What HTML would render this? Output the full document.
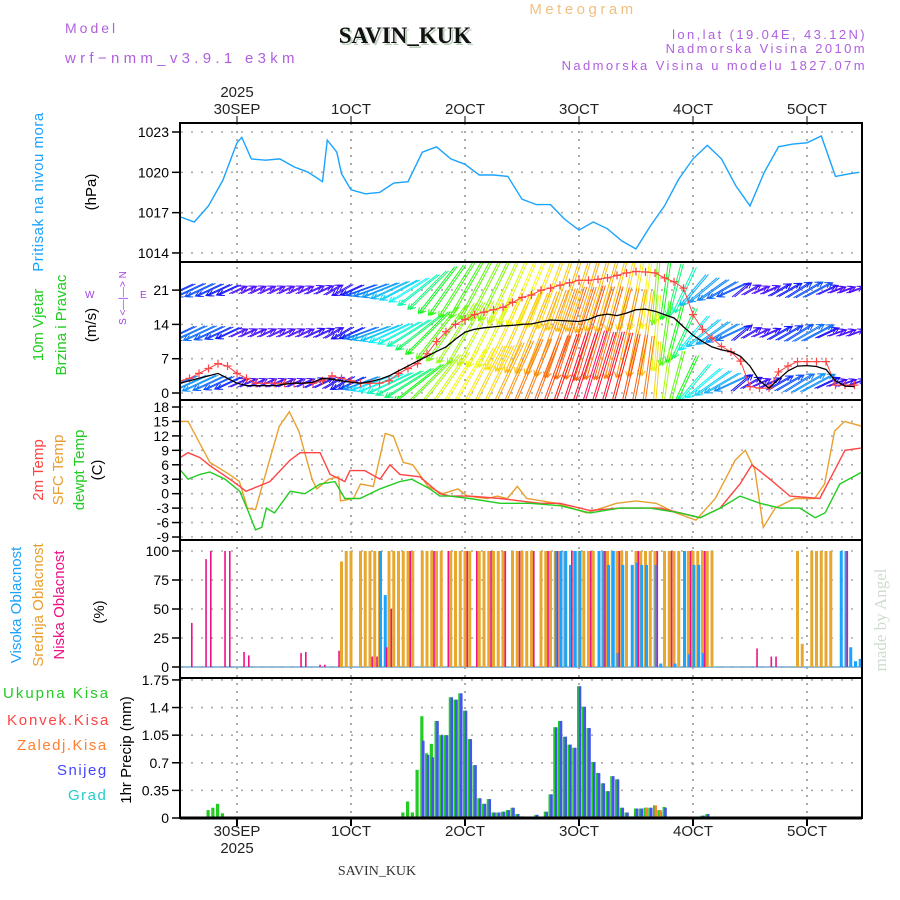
<!DOCTYPE html>
<html><head><meta charset="utf-8"><style>
body{margin:0;background:#fff;}
svg{display:block;font-family:"Liberation Sans",sans-serif;}
.tk{font-size:14px;fill:#000;text-anchor:end;}
.dl{font-size:15px;fill:#222;text-anchor:middle;}
</style></head><body>
<svg id="c" width="900" height="900" viewBox="0 0 900 900">
<defs>
<clipPath id="cp2"><rect x="181" y="263" width="680" height="137"/></clipPath>
<clipPath id="cpAll"><rect x="181" y="123" width="681" height="695"/></clipPath>
</defs>
<text x="65" y="33" font-size="14" fill="#b060e0" letter-spacing="3">Model</text>
<text x="65" y="63" font-size="15" fill="#b060e0" letter-spacing="4.3">wrf−nmm_v3.9.1 e3km</text>
<text x="407" y="45" font-size="23" font-weight="bold" font-family="Liberation Serif,serif" fill="#bcd0bc" text-anchor="middle">SAVIN_KUK</text>
<text x="405" y="43" font-size="23" font-weight="bold" font-family="Liberation Serif,serif" fill="#111" text-anchor="middle">SAVIN_KUK</text>
<text x="583" y="14" font-size="15" fill="#f0c080" text-anchor="middle" letter-spacing="3.5">Meteogram</text>
<text x="867" y="39" font-size="13" fill="#b060e0" text-anchor="end" letter-spacing="2.4">lon,lat (19.04E, 43.12N)</text>
<text x="867" y="53" font-size="13" fill="#b060e0" text-anchor="end" letter-spacing="2.4">Nadmorska Visina 2010m</text>
<text x="867" y="70" font-size="13" fill="#b060e0" text-anchor="end" letter-spacing="2.4">Nadmorska Visina u modelu 1827.07m</text>
<g id="dates"></g>
<g id="grid"></g>
<g id="marks"></g>
<g id="frames"></g>
<g font-size="15">
<text transform="translate(43,192) rotate(-90)" text-anchor="middle" fill="#1aa3ff" letter-spacing="0.5">Pritisak na nivou mora</text>
<text transform="translate(96,192) rotate(-90)" text-anchor="middle" fill="#000">(hPa)</text>
<text transform="translate(43,325) rotate(-90)" text-anchor="middle" fill="#22cc22">10m Vjetar</text>
<text transform="translate(66,325) rotate(-90)" text-anchor="middle" fill="#22cc22">Brzina i Pravac</text>
<text transform="translate(96,325) rotate(-90)" text-anchor="middle" fill="#000">(m/s)</text>
<text x="85" y="298" font-size="10" fill="#a040e0">W</text>
<text transform="translate(126,298) rotate(-90)" text-anchor="middle" font-size="10" fill="#a040e0">S &lt;—|—&gt; N</text>
<text x="140" y="298" font-size="10" fill="#a040e0">E</text>
<text transform="translate(43,470) rotate(-90)" text-anchor="middle" fill="#ff4444">2m Temp</text>
<text transform="translate(63,470) rotate(-90)" text-anchor="middle" fill="#e8a030">SFC Temp</text>
<text transform="translate(84,470) rotate(-90)" text-anchor="middle" fill="#22cc22">dewpt Temp</text>
<text transform="translate(102,470) rotate(-90)" text-anchor="middle" fill="#000">(C)</text>
<text transform="translate(21,605) rotate(-90)" text-anchor="middle" fill="#1aa3ff">Visoka Oblacnost</text>
<text transform="translate(43,605) rotate(-90)" text-anchor="middle" fill="#e8a030">Srednja Oblacnost</text>
<text transform="translate(64,605) rotate(-90)" text-anchor="middle" fill="#ee1188">Niska Oblacnost</text>
<text transform="translate(104,612) rotate(-90)" text-anchor="middle" fill="#000">(%)</text>
<text x="3" y="698" fill="#22cc22" letter-spacing="2">Ukupna Kisa</text>
<text x="7" y="725" fill="#ff4444" letter-spacing="1.8">Konvek.Kisa</text>
<text x="17" y="750" fill="#ff8030" letter-spacing="1.5">Zaledj.Kisa</text>
<text x="57" y="775" fill="#4444ff" letter-spacing="1.5">Snijeg</text>
<text x="68" y="800" fill="#22cccc" letter-spacing="1.5">Grad</text>
<text transform="translate(131,750) rotate(-90)" text-anchor="middle" fill="#000">1hr Precip (mm)</text>
</g>
<text transform="translate(886,620) rotate(-90)" text-anchor="middle" font-size="17" font-family="Liberation Serif,serif" fill="#cfdccf">made by Angel</text>
<text x="377" y="875" font-size="14" font-family="Liberation Serif,serif" fill="#333" text-anchor="middle">SAVIN_KUK</text>
</svg>
<script>
// ---------- data ----------
const dayLabels=["30SEP","1OCT","2OCT","3OCT","4OCT","5OCT"];
const pressTicks=[1023,1020,1017,1014];
const windTicks=[0,7,14,21];
const tempTicks=[18,15,12,9,6,3,0,-3,-6,-9];
const cloudTicks=[0,25,50,75,100];
const precipTicks=[0,0.35,0.7,1.05,1.4,1.75];

const pressHours=[0,3,6,9,12,13,15,18,21,24,27,30,31,33,34,36,39,42,45,48,51,54,57,60,63,66,69,72,75,78,81,84,87,90,93,96,99,102,105,108,111,114,117,120,123,126,129,132,135,138,141,143];
const pressVals=[1016.7,1016.3,1017.5,1019.4,1022.2,1022.6,1021.0,1020.9,1021.0,1020.4,1020.0,1019.3,1022.4,1021.5,1019.9,1018.7,1018.4,1018.5,1019.2,1019.3,1021.5,1021.9,1021.0,1020.6,1019.8,1019.8,1019.7,1018.0,1017.6,1017.6,1016.5,1015.7,1016.3,1015.8,1014.9,1014.3,1016.0,1017.5,1019.5,1021.0,1022.0,1021.0,1019.0,1017.5,1020.0,1021.9,1022.1,1022.2,1022.7,1019.7,1019.9,1020.0];

const windHours=[0,2,4,6,8,10,12,14,16,18,20,22,24,26,28,30,32,34,36,38,40,42,44,46,48,50,52,54,56,58,60,62,64,66,68,70,72,74,76,78,80,82,84,86,88,90,92,94,96,98,100,102,104,106,108,110,112,114,116,118,120,122,124,126,128,130,132,134,136,138,140,142];
const windSpeed=[2,2.5,3,3.5,4,3,2,1.5,1.5,1.5,1.5,1.8,2,2,2.2,3,2.8,2.5,2.2,2,2.3,2.8,3.5,4.5,5.5,6.5,7.5,8.5,9.4,11,12.4,13,13.3,13.5,13.7,13.8,14,14.1,14.5,14.9,14.8,14.7,14.6,15,15.8,16.1,15.8,16.3,17,17.1,16.7,16,15.3,13.5,11.8,10.5,9.4,8.8,8.4,7.5,5.5,2.5,1,2.8,4.5,5.5,5.6,5.4,4.8,2.5,1.4,1.3];
const gustSpeed=[2.5,3,4,5,6,5.5,4,3,2,2,2,2,2,2,2,2.5,3.5,3,2.5,2,2,2,2.5,4,5,6,8,10.5,12.5,14,15,16,16.5,17,17.5,18.5,19.5,20,21,21.4,22,22.5,23,23,23.2,23.5,24,24.5,24.8,24.7,24.5,23.5,22.7,21.4,16,13,11.2,9.5,8.4,6.5,1.3,1,1,4.3,5.5,6.4,6.4,6.4,6.4,1.6,1.6,1.6];
const bandSpeed=[4.5,5,5,4.5,4,3.5,2,2,2,2,2,2,2,2,2.5,2.5,2.5,3,3.5,5,6,6.5,7,7.5,8,9,10,11,11.5,12,12,12.5,13,13,14,14.5,15,15,15.5,16,16.5,17,17,17.5,17,17,16.5,16,15.5,15,13,11,10,9,7,6.5,6,5.5,5,3,2.5,2,2.5,3.5,4,4.5,5,5,3,2,2,2];
const bandDir=[205,205,205,205,205,205,25,25,25,25,25,25,25,25,25,25,30,210,205,200,200,202,205,208,212,218,225,232,235,238,240,242,243,244,245,246,247,248,249,250,251,252,252,253,253,254,255,257,259,262,265,262,255,245,230,220,215,210,205,40,30,25,25,30,30,32,30,28,25,20,20,20];

const t2Hours=[0,1.7,4.2,6.3,10.5,12.6,13.9,18.9,23.2,25.3,29.5,31.6,34.7,35.8,38.9,42.1,44.2,46.3,50.5,54.7,56.8,61,67.4,71.6,75.8,80,86.3,92.6,101,105.3,109.5,113.7,117.9,120.4,124.2,128.4,134.7,137.9,140,143.6];
const t2Vals=[7.5,8.5,7.5,5.8,3,1.5,0.5,2.5,7,8.5,8.5,4,2.5,4.8,4.8,3,6,4,3.5,0,-0.5,-0.5,-1,-1.5,-2,-2,-3.5,-3,-3,-4,-5,-3,2,6,3,-0.5,-1,5,9,9.5];
const sfcHours=[0,1.7,6.3,10.4,12.5,14.2,15.9,17.7,20.9,23,25,27.8,28.8,31.3,33.4,33.8,36.5,38,40.7,43.2,44.9,47,49,52.2,55.3,58.5,60.5,64.7,66.8,68.9,71,73,79.3,85.6,91.9,96,100.2,104.4,108.6,112.7,116.9,119,121,122.8,125.3,129.4,133.6,135.7,137.8,139.9,143.6];
const sfcVals=[15,15,6.5,4,2.5,-3,-3.3,3,14,17,13,3,1,3,3.5,-1.5,-1,2,1.5,12.5,12,6.5,6,1.5,0,1,-0.5,-1,-0.5,-1,1.5,-1,-2,-4,-2,-1.5,-2,-4,-5.5,-1,7,9,5,-7,-3,-1,-1,2,13,15,14];
const dewHours=[0,1.7,4.2,6.3,9.5,12.6,14.3,15.9,17.2,18.2,19.9,23.2,26.3,29.5,32.6,34.7,37.9,42.1,46.3,48.8,52.6,54.7,56.8,61,67.4,73.7,80,86.3,92.6,98.9,105.3,109.5,113.7,117.9,122.1,126.3,130.5,133.7,135.8,138.9,143.6];
const dewVals=[5,3,4,4.5,3,0.5,-3.5,-7.5,-7,-3,-4,0.5,0,2,2.5,-1,-1,1,2.5,3,1,-0.5,-0.5,-1,-2,-2,-2.5,-4,-3,-3,-4,-5,-3,-0.5,-2,-3,-3,-5,-4,2,4.5];

const midCloud=[0,0,0,0,0,0,0,0,0,0,0,0,0,0,0,0,0,0,0,0,0,0,0,0,0,0,0,0,0,0,0,0,0,0,91,100,100,0,100,100,100,100,100,0,100,100,100,100,100,100,0,100,100,100,100,100,0,100,100,100,100,100,0,100,100,100,100,100,100,0,100,100,100,100,100,0,100,100,100,100,100,100,0,100,100,100,100,100,0,100,100,100,100,100,100,0,100,100,100,100,100,0,100,100,100,100,0,100,100,100,100,100,100,0,0,0,0,0,0,0,0,0,0,0,0,0,0,0,0,0,100,20,0,100,100,100,100,100,0,0];
const lowHours=[2,5,6,9,10,13,14,25,26,29,30,33,40,41,43,44,48,53,56,60,62,65,68,71,74,77,79,82,86,89,92,96,100,103,107,110,121,124,125,140];
const lowVals=[38,93,100,100,100,13,10,12,13,2,2,14,9,9,17,50,100,100,100,100,100,100,100,100,100,100,100,100,100,100,100,100,100,100,100,100,16,9,9,100];
const highHours=[42,43,79,80,81,82,83,84,88,89,90,91,92,93,95,96,97,98,100,101,104,106,107,108,109,110,139,140,141,142,143];
const highVals=[100,62,100,100,100,88,100,100,100,100,88,100,12,88,88,90,88,88,88,3,3,100,11,88,88,12,100,100,17,5,7];

const precipHours=[6,7,8,9,47,48,49,50,51,52,53,54,55,56,57,58,59,60,61,62,63,64,65,66,67,68,69,70,71,72,73,74,75,77,78,79,80,81,82,83,84,85,86,87,88,89,90,91,92,93,94,95,96,97,98,99,100,101,102,110,111];
const precipVals=[0.1,0.13,0.18,0.06,0.07,0.21,0.07,0.61,1.29,0.82,0.94,1.23,1.05,1.05,1.53,1.5,1.58,1.36,1.0,0.67,0.25,0.18,0.24,0.07,0.07,0.08,0.1,0.13,0.05,0.02,0.01,0.01,0.04,0.08,0.3,1.15,1.23,1.03,0.93,0.89,1.67,1.41,1.14,0.71,0.57,0.44,0.34,0.53,0.49,0.13,0.07,0.02,0.12,0.12,0.13,0.13,0.16,0.1,0.14,0.03,0.05];
const snowVals=[0,0,0,0,0,0,0,0,0.98,0.8,0.77,1.23,1.05,1.05,1.53,1.5,1.58,1.36,1.0,0.67,0.25,0.18,0.24,0.07,0.07,0.08,0.1,0.13,0.05,0.02,0.01,0.01,0.04,0.08,0.3,1.15,1.23,1.03,0.93,0.89,1.67,1.41,1.14,0.71,0.57,0.44,0.34,0.53,0.49,0.13,0.07,0.02,0.12,0.12,0.13,0.13,0.1,0.08,0.13,0.03,0.05];
const freezeVals=[0,0,0,0,0,0,0,0,0,0,0,0,0,0,0,0,0,0,0,0,0,0,0,0,0,0,0,0,0,0,0,0,0,0,0,0,0,0,0,0,0,0,0,0,0,0,0,0,0,0,0,0,0,0,0.13,0,0.16,0.1,0,0,0];

// ---------- scales ----------
const X0=180,X1=862;
const xs=t=>X0+t*4.75;
const yP=p=>132+(1023-p)*13.44;
const yW=s=>393-s*4.9;
const yT=v=>407+(18-v)*4.815;
const yC=c=>667-c*1.16;
const yR=r=>818-r*78.9;
const NS="http://www.w3.org/2000/svg";
function mk(tag,parent,attrs){const e=document.createElementNS(NS,tag);for(const k in attrs)e.setAttribute(k,attrs[k]);parent.appendChild(e);return e;}
const G=document.getElementById('grid'),M=document.getElementById('marks'),F=document.getElementById('frames'),D=document.getElementById('dates');
const panels=[[123,262],[262,400],[400,540],[540,678],[678,818]];

dayLabels.forEach((d,k)=>{
  const x=xs(12+24*k);
  const l=mk('line',G,{x1:x,x2:x,y1:123,y2:818,stroke:'#999','stroke-width':1.6,'stroke-dasharray':'2,6'});
  
  
  const tt=mk('text',D,{x:x,y:114,class:'dl'});tt.textContent=d;
  
  
  const tb=mk('text',D,{x:x,y:836,class:'dl'});tb.textContent=d;
  
  
  mk('line',D,{x1:x,x2:x,y1:116,y2:123,stroke:'#555','stroke-width':1.5});
  mk('line',D,{x1:x,x2:x,y1:818,y2:826,stroke:'#000','stroke-width':2});
});
[[237,97],[237,853]].forEach(([x,y])=>{const t=mk('text',D,{x:x,y:y,class:'dl'});t.textContent='2025';
  
  });

function yAxis(ticks,f){ticks.forEach(v=>{const y=f(v);
  const g=mk('line',G,{x1:181,x2:862,y1:y,y2:y,stroke:'#aaa','stroke-width':1.6,'stroke-dasharray':'2,8'});
  
  
  mk('line',F,{x1:172,x2:180,y1:y,y2:y,stroke:'#000','stroke-width':1.5});
  const t=mk('text',F,{x:169,y:y+5,class:'tk'});t.textContent=v;
  
  });}
yAxis(pressTicks,yP);yAxis(windTicks,yW);yAxis(tempTicks,yT);yAxis(cloudTicks,yC);yAxis(precipTicks,yR);

function poly(hs,vs,fy,color,w,name,clip){const pts=hs.map((h,i)=>xs(h).toFixed(1)+','+fy(vs[i]).toFixed(1)).join(' ');
  const p=mk('polyline',M,{points:pts,fill:'none',stroke:color,'stroke-width':w,'clip-path':clip||'url(#cpAll)'});
  
  return p;}

poly(pressHours,pressVals,yP,'#1aa3ff',1.4,'pressure-line');

// wind arrows
function hueOf(s){const st=[[0,275],[3,240],[6,190],[9,120],[12,60],[14,40],[16,15],[18,-30],[25,-40]];
  for(let i=1;i<st.length;i++){if(s<=st[i][0]){const a=st[i-1],b=st[i];const f=(s-a[0])/(b[0]-a[0]);return a[1]+f*(b[1]-a[1]);}}return -40;}
const WG=mk('g',M,{'clip-path':'url(#cp2)'});


[[290,0.8],[333,0.9],[383,1.0]].forEach(([base,fac])=>{
  windHours.forEach((h,i)=>{
    const s=bandSpeed[i]*fac,a=bandDir[i]*Math.PI/180,L=s*5.8+8;
    const dx=L*Math.cos(a),dy=-L*Math.sin(a);
    const col='hsl('+((hueOf(s)+360)%360)+',95%,52%)';
    [0,2.4].forEach(off=>{
      const x=xs(h)+off;
      const hx=x+dx/2,hy=base+dy/2,tx=x-dx/2,ty=base-dy/2;
      const ang=Math.atan2(hy-ty,hx-tx),hl=6;
      const d='M'+tx.toFixed(1)+','+ty.toFixed(1)+'L'+hx.toFixed(1)+','+hy.toFixed(1)+
        'M'+(hx-hl*Math.cos(ang-0.5)).toFixed(1)+','+(hy-hl*Math.sin(ang-0.5)).toFixed(1)+'L'+hx.toFixed(1)+','+hy.toFixed(1)+
        'L'+(hx-hl*Math.cos(ang+0.5)).toFixed(1)+','+(hy-hl*Math.sin(ang+0.5)).toFixed(1);
      const ar=mk('path',WG,{d:d,stroke:col,'stroke-width':1,fill:'none'});
      
      
    });
  });
});
poly(windHours,gustSpeed,yW,'#ff4444',1,'gust-line','url(#cp2)');
windHours.forEach((h,i)=>{const x=xs(h),y=yW(gustSpeed[i]);
  const c=mk('path',M,{d:'M'+(x-4)+','+y+'h8M'+x+','+(y-4)+'v8',stroke:'#ff4444','stroke-width':1.2,'clip-path':'url(#cp2)'});
  
  });
poly(windHours,windSpeed,yW,'#000',1.3,'wind-speed-line','url(#cp2)');

// temps
poly(sfcHours,sfcVals,yT,'#e8a030',1.4,'sfc-temp-line');
poly(t2Hours,t2Vals,yT,'#ff4444',1.4,'temp-2m-line');
poly(dewHours,dewVals,yT,'#22cc22',1.4,'dewpt-line');

// clouds
mk('line',M,{x1:181,x2:862,y1:yC(0),y2:yC(0),stroke:'#7ac',"stroke-width":1.5});
midCloud.forEach((v,h)=>{if(v<=0)return;const x=xs(h);
  const r=mk('rect',M,{x:x-1.5,y:yC(v),width:3,height:yC(0)-yC(v),fill:'#e8a830','clip-path':'url(#cpAll)'});
  
  });
highHours.forEach((h,i)=>{const v=highVals[i],x=xs(h);
  const r=mk('rect',M,{x:x-0.5,y:yC(v),width:3,height:yC(0)-yC(v),fill:'#1aa3ff','clip-path':'url(#cpAll)'});
  
  });
lowHours.forEach((h,i)=>{const v=lowVals[i],x=xs(h);
  const r=mk('rect',M,{x:x+1.5,y:yC(v),width:1.6,height:yC(0)-yC(v),fill:'#ee1188','clip-path':'url(#cpAll)'});
  
  });

// precip
precipHours.forEach((h,i)=>{const x=xs(h);
  const g=mk('rect',M,{x:x-2,y:yR(precipVals[i]),width:3.2,height:818-yR(precipVals[i]),fill:'#22cc22'});
  
  
  if(snowVals[i]>0){const b=mk('rect',M,{x:x-0.3,y:yR(snowVals[i]),width:2.6,height:818-yR(snowVals[i]),fill:'#4455ee'});
    
    }
  if(freezeVals[i]>0){const o=mk('rect',M,{x:x-0.5,y:yR(freezeVals[i]),width:2.5,height:818-yR(freezeVals[i]),fill:'#ff8030'});
    
    }
});

// frames
panels.forEach(([a,b])=>{const r=mk('rect',F,{x:180,y:a,width:X1-180,height:b-a,fill:'none',stroke:'#000','stroke-width':2});
  
  });
mk('line',F,{x1:180,x2:X1,y1:818,y2:818,stroke:'#000','stroke-width':3});
</script>
</body></html>
